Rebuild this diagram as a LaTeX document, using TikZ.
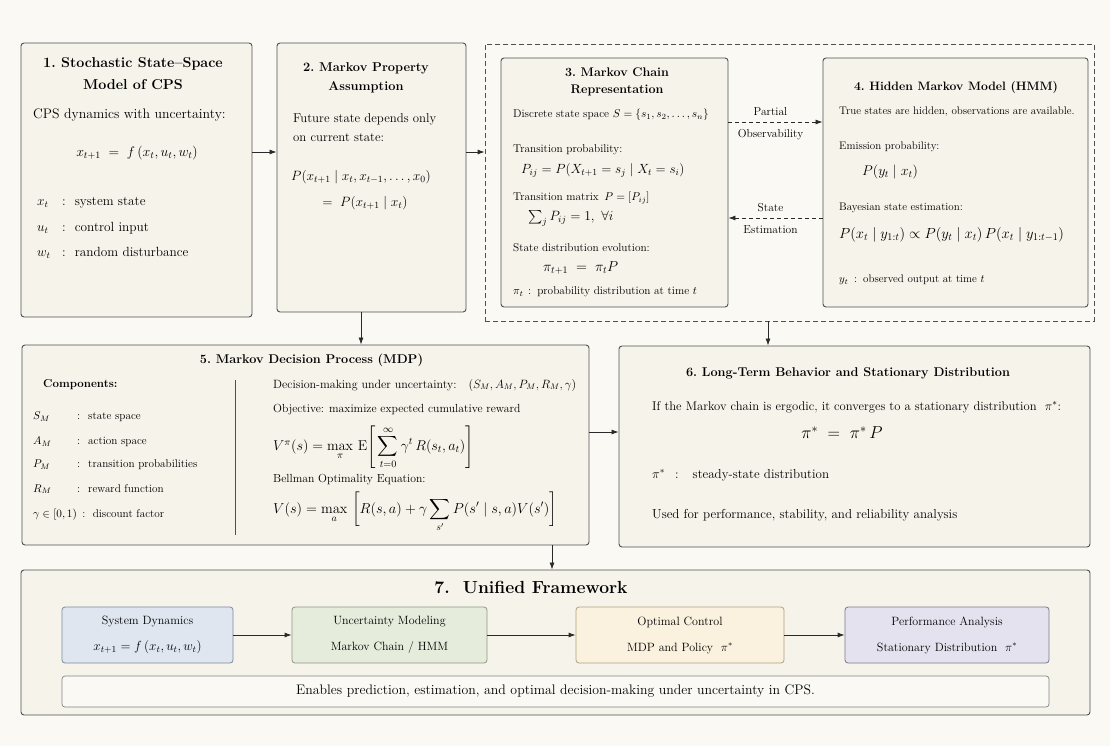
\documentclass[tikz,border=0pt]{standalone}
\usepackage{fix-cm}
\usepackage{amsmath,amssymb}
\usetikzlibrary{arrows.meta,positioning}

\definecolor{paper}{HTML}{FAF9F4}
\definecolor{panelfill}{HTML}{F5F3EA}
\definecolor{edgegray}{HTML}{505050}
\definecolor{arrowgray}{HTML}{2A2A2A}
\definecolor{dynfill}{HTML}{DFE6EF}
\definecolor{dynedge}{HTML}{7D8AA0}
\definecolor{uncfill}{HTML}{E5ECDC}
\definecolor{uncedge}{HTML}{8B9A80}
\definecolor{optfill}{HTML}{FAF1DE}
\definecolor{optedge}{HTML}{B3A180}
\definecolor{perffill}{HTML}{E4E2EE}
\definecolor{perfedge}{HTML}{7C7890}

\tikzset{
  panel/.style={draw=edgegray, fill=panelfill, rounded corners=3pt, line width=0.9pt, inner sep=0pt},
  group/.style={draw=edgegray, dash pattern=on 5pt off 3pt, line width=0.8pt, inner sep=0pt},
  ttl/.style 2 args={align=center, inner sep=0pt, font=\bfseries\fontsize{#1}{#2}\selectfont},
  txt/.style 2 args={anchor=west, align=left, inner sep=0pt, font=\fontsize{#1}{#2}\selectfont},
  flow/.style={-{Latex[length=7pt,width=5pt]}, line width=0.8pt, draw=arrowgray},
  dflow/.style={flow, dash pattern=on 4pt off 3pt},
  lbl/.style={font=\fontsize{11.5}{13}\selectfont, inner sep=0pt, xshift=-5pt},
  stage/.style 2 args={draw=#2, fill=#1, rounded corners=3pt, line width=0.8pt,
    minimum height=56pt, align=center, inner sep=0pt, font=\fontsize{12}{26}\selectfont},
}

\begin{document}
\begin{tikzpicture}[x=1pt, y=-1pt]
  \fill[paper] (0,0) rectangle (1110,746);
  \useasboundingbox (0,0) rectangle (1110,746);

  % row coordinates for the connectors
  \coordinate (rowA) at (0,152);
  \coordinate (rowObs) at (0,122);
  \coordinate (rowEst) at (0,218);
  \coordinate (rowB) at (0,432);
  \coordinate (colA) at (361,0);
  \coordinate (colB) at (768,0);
  \coordinate (colC) at (552,0);

  % 1. state-space model
  \node[panel, minimum width=231pt, minimum height=274pt] (cps) at (136.5,180) {};
  \node[ttl={14.3}{22}] (cpsT) at (133,74) {1.\ Stochastic State--Space\\Model of CPS};
  \node[txt={13.8}{16}] (cpsA) at (33,115) {CPS dynamics with uncertainty:};
  \node[inner sep=0pt, font=\fontsize{13.9}{18}\selectfont] (cpsEq) at (137,153) {$x_{t+1} \;=\; f\,(x_t, u_t, w_t)$};
  \node[txt={13.3}{16}] (cpsX) at (37,203) {\makebox[25pt][l]{$x_t$}:\hspace{9pt}system state};
  \node[txt={13.3}{16}] (cpsU) at (37,228) {\makebox[25pt][l]{$u_t$}:\hspace{9pt}control input};
  \node[txt={13.3}{16}] (cpsW) at (37,253) {\makebox[25pt][l]{$w_t$}:\hspace{9pt}random disturbance};

  % 2. Markov property
  \node[panel, minimum width=189pt, minimum height=269pt] (markov) at (371.5,177.5) {};
  \node[ttl={12.8}{19}] (markovT) at (366,77.5) {2.\ Markov Property\\Assumption};
  \node[txt={12.8}{19}] (markovA) at (293,127.5) {Future state depends only\\on current state:};
  \node[txt={13.5}{16}] (markovEq) at (291,177) {$P(x_{t+1} \mid x_t, x_{t-1}, \ldots, x_0)$};
  \node[inner sep=0pt, font=\fontsize{13.5}{16}\selectfont] (markovEq2) at (365,203) {$=\; P(x_{t+1} \mid x_t)$};

  % dashed group around 3 and 4
  \node[group, minimum width=609pt, minimum height=277pt] (hidden) at (789.5,182.5) {};

  % 3. Markov chain
  \node[panel, minimum width=227pt, minimum height=249pt] (chain) at (614.5,182.5) {};
  \node[ttl={12.5}{17}] (chainT) at (617,81.5) {3.\ Markov Chain\\Representation};
  \node[txt={11.3}{14}] (chainS) at (513,115) {Discrete state space $S = \{s_1, s_2, \ldots, s_n\}$};
  \node[txt={11.3}{14}] (chainP) at (513,150) {Transition probability:};
  \node[txt={13.3}{15}] (chainPe) at (521,170) {$P_{ij} = P(X_{t+1} = s_j \mid X_t = s_i)$};
  \node[txt={11.3}{14}] (chainM) at (513,198) {Transition matrix \,$P = [P_{ij}]$};
  \node[txt={13.5}{15}] (chainMe) at (528,218) {$\sum_j P_{ij} = 1,\ \forall i$};
  \node[txt={11.3}{14}] (chainD) at (513,248) {State distribution evolution:};
  \node[txt={14.4}{15}] (chainDe) at (543,268) {$\pi_{t+1} \;=\; \pi_t P$};
  \node[txt={11.3}{14}] (chainDt) at (513,292) {\makebox[15pt][l]{$\pi_t$}:\hspace{6pt}probability distribution at time $t$};

  % 4. HMM
  \node[panel, minimum width=265pt, minimum height=249pt] (hmm) at (955.5,182.5) {};
  \node[ttl={12.2}{17}] (hmmT) at (956,87) {4.\ Hidden Markov Model (HMM)};
  \node[txt={11}{14}] (hmmA) at (839,112) {True states are hidden, observations are available.};
  \node[txt={11}{14}] (hmmE) at (839,147) {Emission probability:};
  \node[txt={14}{16}] (hmmEe) at (862,172) {$P(y_t \mid x_t)$};
  \node[txt={11}{14}] (hmmB) at (839,208) {Bayesian state estimation:};
  \node[txt={14.6}{15}] (hmmBe) at (839,235) {$P(x_t \mid y_{1:t}) \propto P(y_t \mid x_t)\, P(x_t \mid y_{1:t-1})$};
  \node[txt={11}{14}] (hmmY) at (839,280) {\makebox[15pt][l]{$y_t$}:\hspace{6pt}observed output at time $t$};

  % 5. MDP
  \node[panel, minimum width=567pt, minimum height=200pt] (mdp) at (305.5,445) {};
  \node[ttl={12.7}{16}] (mdpT) at (311.5,360) {5.\ Markov Decision Process (MDP)};
  \draw[edgegray, line width=0.7pt] (235,380) -- (235,535);
  \node[txt={11.5}{14}, font=\bfseries\fontsize{11.5}{14}\selectfont] (mdpC) at (43,385) {Components:};
  \node[txt={11.2}{14}] (mdpS) at (33,417) {\makebox[44pt][l]{$S_M$}:\hspace{8pt}state space};
  \node[txt={11.2}{14}] (mdpA) at (33,442) {\makebox[44pt][l]{$A_M$}:\hspace{8pt}action space};
  \node[txt={11.2}{14}] (mdpP) at (33,465) {\makebox[44pt][l]{$P_M$}:\hspace{8pt}transition probabilities};
  \node[txt={11.2}{14}] (mdpR) at (33,489) {\makebox[44pt][l]{$R_M$}:\hspace{8pt}reward function};
  \node[txt={11.2}{14}] (mdpG) at (33,515) {$\gamma \in [0,1)$ \,:\ \ discount factor};
  \node[txt={12}{14}] (mdpD) at (273,385) {Decision-making under uncertainty:\quad $(S_M, A_M, P_M, R_M, \gamma)$};
  \node[txt={11.7}{14}] (mdpO) at (273,410) {Objective: maximize expected cumulative reward};
  \node[txt={14.2}{16}] (mdpV) at (273,447) {$V^{\pi}(s) = \displaystyle\max_{\pi}\, \mathrm{E}\Biggl[\, \sum_{t=0}^{\infty} \gamma^t\, R(s_t, a_t) \Biggr]$};
  \node[txt={11.7}{14}] (mdpB) at (273,480) {Bellman Optimality Equation:};
  \node[txt={14.4}{16}] (mdpBe) at (273,512) {$V(s) = \displaystyle\max_{a}\ \biggl[ R(s,a) + \gamma \sum_{s'} P(s' \mid s,a) V(s') \biggr]$};

  % 6. stationary distribution
  \node[panel, minimum width=471pt, minimum height=201pt] (stat) at (854.5,446.5) {};
  \node[ttl={12.7}{16}] (statT) at (848,373) {6.\ Long-Term Behavior and Stationary Distribution};
  \node[txt={12.6}{14}] (statA) at (652,407) {If the Markov chain is ergodic, it converges to a stationary distribution \ $\pi^*$:};
  \node[inner sep=0pt, font=\fontsize{17.3}{19}\selectfont] (statEq) at (842,433) {$\pi^* \;=\; \pi^*\, P$};
  \node[txt={13}{14}] (statS) at (652,475) {\makebox[23pt][l]{$\pi^*$}:\hspace{14pt}steady-state distribution};
  \node[txt={13}{14}] (statU) at (652,515) {Used for performance, stability, and reliability analysis};

  % 7. unified framework
  \node[panel, minimum width=1069pt, minimum height=145pt] (unified) at (555.5,642.5) {};
  \node[ttl={17.5}{19}] (unifiedT) at (531,587) {7.\ \ Unified Framework};
  \node[stage={dynfill}{dynedge}, minimum width=171pt] (dyn) at (147.5,635) {System Dynamics\\{\fontsize{13.2}{15}\selectfont$x_{t+1} = f\,(x_t, u_t, w_t)$}};
  \node[stage={uncfill}{uncedge}, minimum width=195pt] (unc) at (389.5,635) {Uncertainty Modeling\\Markov Chain / HMM};
  \node[stage={optfill}{optedge}, minimum width=208pt] (opt) at (680,635) {Optimal Control\\MDP and Policy \ $\pi^*$};
  \node[stage={perffill}{perfedge}, minimum width=204pt] (perf) at (947,635) {Performance Analysis\\Stationary Distribution \ $\pi^*$};
  \node[draw=edgegray!70, fill=paper, rounded corners=3pt, line width=0.7pt, minimum width=987pt, minimum height=31pt,
        font=\fontsize{13.8}{15}\selectfont] (note) at (555.5,691.5)
        {Enables prediction, estimation, and optimal decision-making under uncertainty in CPS.};

  % connectors
  \draw[flow] (cps.east |- rowA) -- (markov.west |- rowA);
  \draw[flow] (markov.east |- rowA) -- (hidden.west |- rowA);
  \draw[dflow] (chain.east |- rowObs) -- (hmm.west |- rowObs)
    node[lbl, midway, above=6pt] (obsA) {Partial}
    node[lbl, midway, below=7pt] (obsB) {Observability};
  \draw[dflow] (hmm.west |- rowEst) -- (chain.east |- rowEst)
    node[lbl, midway, above=6pt] (estA) {State}
    node[lbl, midway, below=7pt] (estB) {Estimation};
  \draw[flow] (markov.south -| colA) -- (mdp.north -| colA);
  \draw[flow] (hidden.south -| colB) -- (stat.north -| colB);
  \draw[flow] (mdp.east |- rowB) -- (stat.west |- rowB);
  \draw[flow] (mdp.south -| colC) -- (unified.north -| colC);
  \draw[flow] (dyn) -- (unc);
  \draw[flow] (unc) -- (opt);
  \draw[flow] (opt) -- (perf);
\end{tikzpicture}
\end{document}
